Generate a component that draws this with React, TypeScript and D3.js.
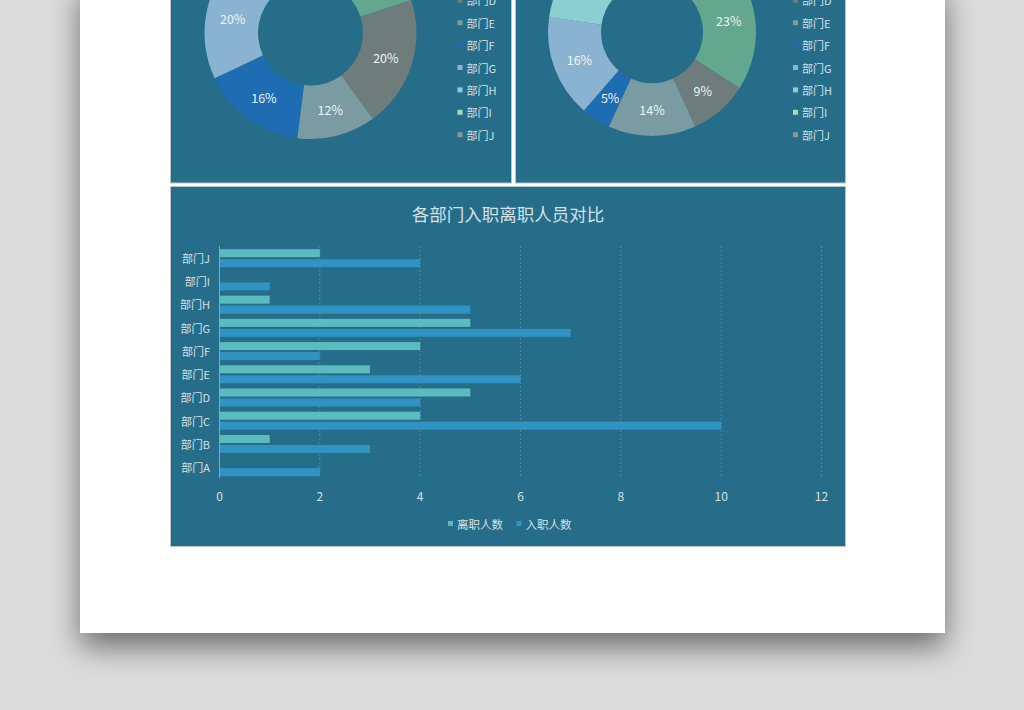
import React from "react";
import * as d3 from "d3";

const departments = ["部门A", "部门B", "部门C", "部门D", "部门E", "部门F", "部门G", "部门H", "部门I", "部门J"];
const leaveCounts = [0, 1, 4, 5, 3, 4, 5, 1, 0, 2]; // 离职人数
const joinCounts = [2, 3, 10, 4, 6, 2, 7, 5, 1, 4]; // 入职人数
const seriesNames = ["离职人数", "入职人数"];
const xTicks = [0, 2, 4, 6, 8, 10, 12];
const sliceColors = ["#2f86b8", "#4fa9b4", "#62a78e", "#6e7c7b", "#7a9ba1", "#1e6db3", "#8ab3d1", "#8ccfd1", "#a9d9bb", "#8f9493"];
const barColors = ["#5bbcc0", "#3193c2"];
const title = "各部门入职离职人员对比";

const FONT = "'Noto Sans CJK SC', 'Noto Sans', sans-serif";
const PANEL = "#266d89";
const TEXT = "#d6e0e4";

function Donut({ values, cx, cy, rOuter, rInner, legendX }: { values: number[]; cx: number; cy: number; rOuter: number; rInner: number; legendX: number }) {
  const total = d3.sum(values);
  const pie = d3.pie<number>().sort(null).value((d) => d)(values);
  const arc = d3.arc<d3.PieArcDatum<number>>().innerRadius(rInner).outerRadius(rOuter);
  const labelArc = d3.arc<d3.PieArcDatum<number>>().innerRadius((rInner + rOuter) / 2).outerRadius((rInner + rOuter) / 2);
  const legendY = d3.scaleLinear().domain([0, 1]).range([-66.9, -66.9 + 22.4]);
  return (
    <g>
      <g transform={`translate(${cx},${cy})`}>
        {pie.map((p, i) => (
          <path key={i} d={arc(p) || ""} fill={sliceColors[i]} />
        ))}
        {pie.map((p, i) => {
          if (p.value === 0) return null;
          const [lx, ly] = labelArc.centroid(p);
          if (cy + ly < -8) return null; // entirely above the visible page
          return (
            <text key={"l" + i} x={lx} y={ly} textAnchor="middle" dominantBaseline="central" fill="#eef3f5" fontSize={12.5} fontFamily={FONT}>
              {Math.round((p.value / total) * 100)}%
            </text>
          );
        })}
      </g>
      {departments.map((d, i) => {
        const ly = legendY(i);
        if (ly < -8) return null; // entirely above the visible page
        return (
          <g key={d} transform={`translate(${legendX},${ly})`}>
            <rect x={0} y={-2.5} width={5} height={5} fill={sliceColors[i]} />
            <text x={9} y={0} dominantBaseline="central" fill={TEXT} fontSize={11} fontFamily={FONT}>{d}</text>
          </g>
        );
      })}
    </g>
  );
}

export default function App() {
  const x = d3.scaleLinear().domain([0, 12]).range([219.5, 821.5]);
  const yOrder = [...departments].reverse();
  const y = d3.scaleBand<string>().domain(yOrder).range([246.4, 478.6]);
  const inner = d3.scaleBand<string>().domain(seriesNames).range([2.8, 20.8]).paddingInner(0.2);
  const seriesData = [leaveCounts, joinCounts];

  return (
    <svg width={1024} height={710} style={{ position: "absolute", left: 0, top: 0 }} fontFamily={FONT}>
      <defs>
        <filter id="shadow" x="-10%" y="-10%" width="120%" height="130%">
          <feDropShadow dx={0} dy={14} stdDeviation={15} floodColor="#000" floodOpacity={0.5} />
        </filter>
      </defs>
      <rect x={0} y={0} width={1024} height={710} fill="#dcdcdc" />
      <rect x={80} y={-20} width={865} height={653} fill="#ffffff" filter="url(#shadow)" />

      {/* top-left panel */}
      <rect x={170.5} y={-2} width={341} height={185} fill={PANEL} stroke="#b8c4ca" strokeWidth={1} />
      {/* top-right panel */}
      <rect x={515.5} y={-2} width={330} height={185} fill={PANEL} stroke="#b8c4ca" strokeWidth={1} />
      {/* bottom panel */}
      <rect x={170.5} y={186.5} width={675} height={360} fill={PANEL} stroke="#b8c4ca" strokeWidth={1} />

      <Donut values={leaveCounts} cx={310.5} cy={33} rOuter={106} rInner={52.5} legendX={457.5} />
      <Donut values={joinCounts} cx={652} cy={32} rOuter={104} rInner={51} legendX={793} />

      {/* bar chart */}
      <text x={508} y={213} textAnchor="middle" dominantBaseline="central" fill={TEXT} fontSize={17.5}>{title}</text>
      {xTicks.slice(1).map((t) => (
        <line key={t} x1={x(t)} x2={x(t)} y1={246} y2={478} stroke="#5a889c" strokeWidth={1} strokeDasharray="2,2" />
      ))}
      {yOrder.map((d) => {
        const idx = departments.indexOf(d);
        return (
          <g key={d}>
            {seriesData.map((s, si) => (
              <rect key={si} x={x(0)} y={(y(d) || 0) + (inner(seriesNames[si]) || 0)} width={x(s[idx]) - x(0)} height={inner.bandwidth()} fill={barColors[si]} />
            ))}
            <text x={210} y={(y(d) || 0) + y.bandwidth() / 2} textAnchor="end" dominantBaseline="central" fill={TEXT} fontSize={11}>{d}</text>
          </g>
        );
      })}
      <line x1={x(0)} x2={x(0)} y1={246} y2={478} stroke="#8aa9b8" strokeWidth={1} />
      {xTicks.map((t) => (
        <text key={t} x={x(t)} y={495} textAnchor="middle" dominantBaseline="central" fill={TEXT} fontSize={12}>{t}</text>
      ))}
      {seriesNames.map((n, i) => {
        const lx = [448, 516.5][i];
        return (
          <g key={n}>
            <rect x={lx} y={521} width={5} height={5} fill={barColors[i]} />
            <text x={lx + 9} y={524} dominantBaseline="central" fill={TEXT} fontSize={11.5}>{n}</text>
          </g>
        );
      })}
    </svg>
  );
}
